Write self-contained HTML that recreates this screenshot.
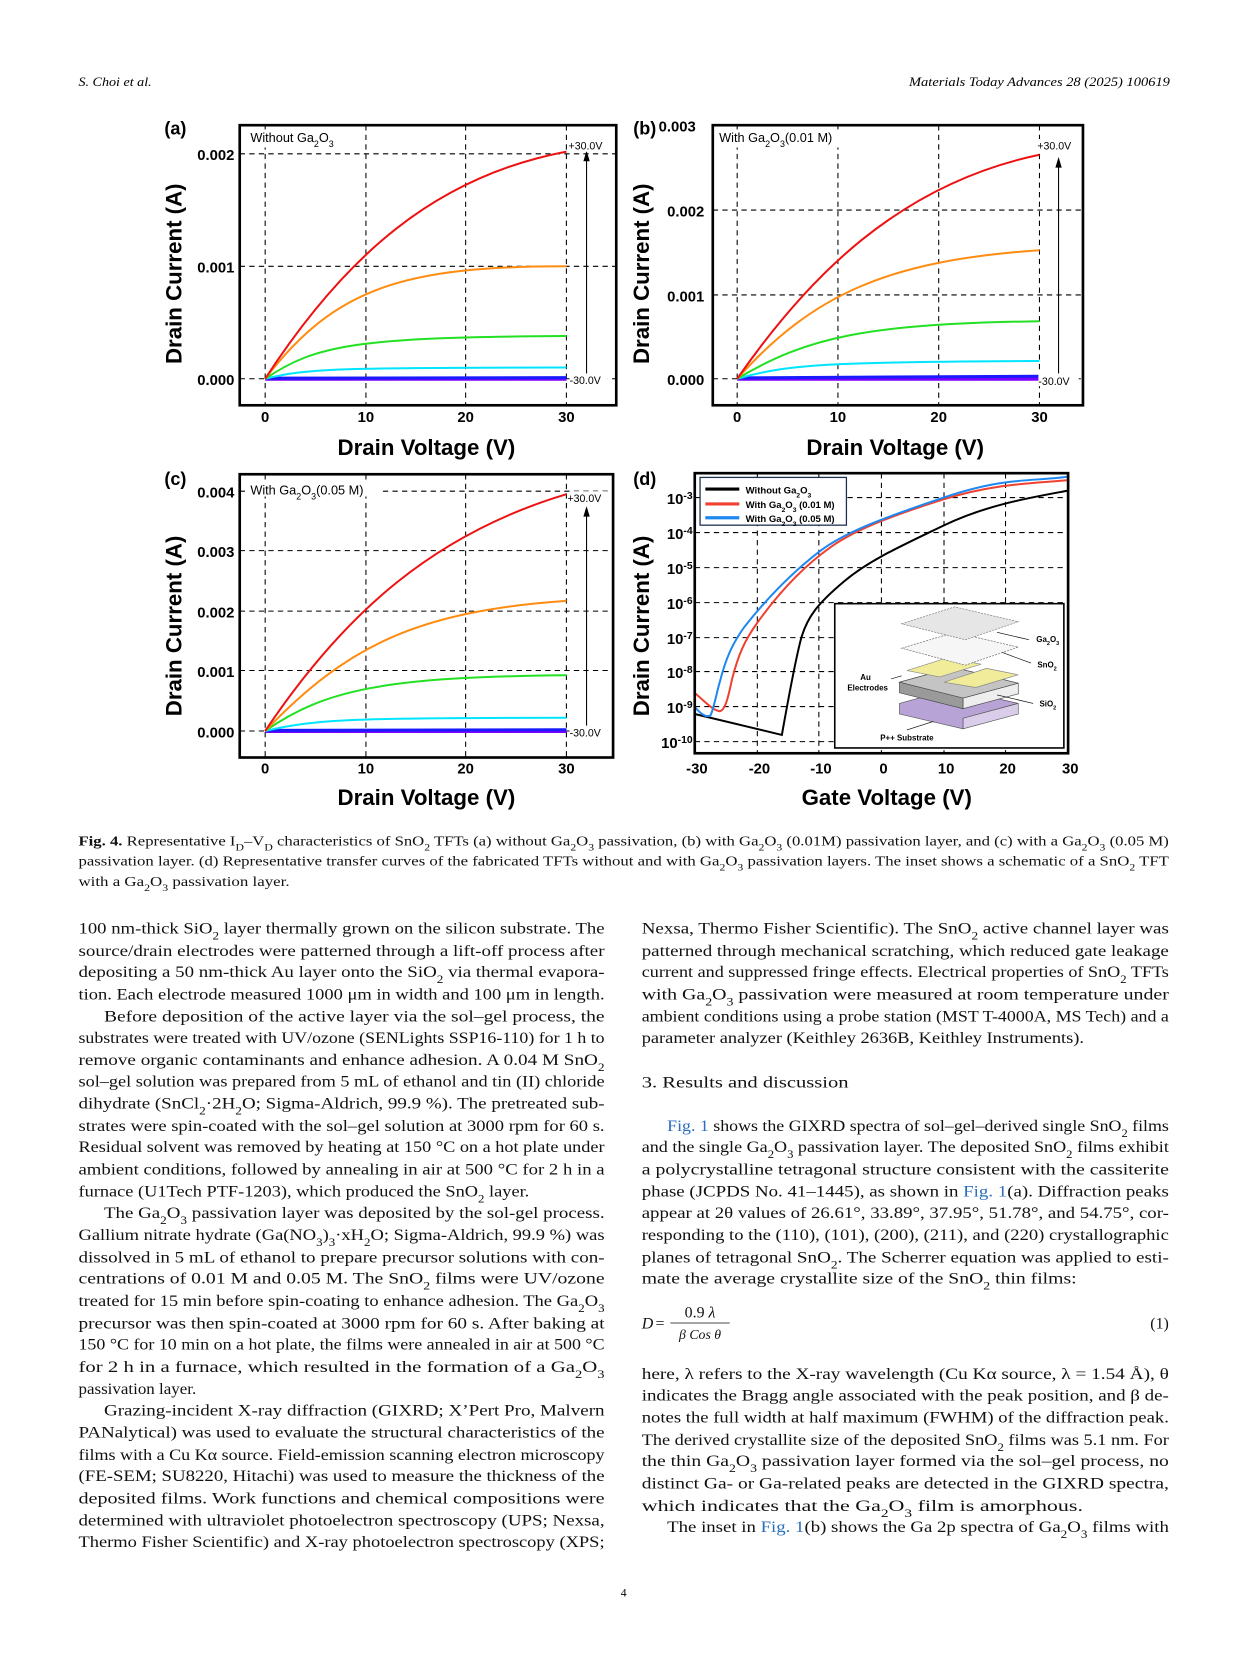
<!DOCTYPE html>
<html><head><meta charset="utf-8">
<style>
html,body{margin:0;padding:0;background:#fff;}
svg{display:block}
.ax{font-family:"Liberation Sans",sans-serif;font-weight:bold;}
.tl{font-family:"Liberation Sans",sans-serif;font-weight:bold;font-size:14px;}
.b{font-family:"Liberation Serif",serif;font-size:15px;fill:#111;}
.cap{font-family:"Liberation Serif",serif;font-size:12.8px;fill:#111;}
.s{font-size:70%;baseline-shift:sub;}
.sp{font-size:70%;baseline-shift:super;}
.lk{fill:#2a6ebb;}
.g{stroke:#000;stroke-width:1;stroke-dasharray:5,4;fill:none;}
.fr{fill:none;stroke:#000;stroke-width:2.5;}
.c{fill:none;vector-effect:non-scaling-stroke;stroke-width:2;}
</style></head><body>
<svg width="1241" height="1654" viewBox="0 0 1170 1559" preserveAspectRatio="none" xmlns="http://www.w3.org/2000/svg">
<rect width="1170" height="1559" fill="#fff"/>
<text x="74" y="81" font-family="Liberation Serif,serif" font-style="italic" font-size="11.5" textLength="69" lengthAdjust="spacingAndGlyphs">S. Choi et al.</text>
<text x="857" y="81" font-family="Liberation Serif,serif" font-style="italic" font-size="11.5" textLength="246" lengthAdjust="spacingAndGlyphs">Materials Today Advances 28 (2025) 100619</text>

<!-- Panel a -->
<g>
<text x="155" y="127" class="ax" font-size="17">(a)</text>
<line class="g" x1="250" y1="118" x2="250" y2="382"/><line class="g" x1="345" y1="118" x2="345" y2="382"/>
<line class="g" x1="439" y1="118" x2="439" y2="382"/><line class="g" x1="534" y1="118" x2="534" y2="382"/>
<line class="g" x1="226" y1="357" x2="581" y2="357"/><line class="g" x1="226" y1="251" x2="581" y2="251"/><line class="g" x1="226" y1="145" x2="581" y2="145"/>
<g transform="translate(250,357) scale(9.47,-106)">
<path class="c" stroke="#7a00ff" style="stroke-width:4" d="M0 0 L30 0"/>
<path class="c" stroke="#1a1aff" style="stroke-width:3" d="M0 0.005 L30 0.01"/>
<path class="c" stroke="#00e5ff" d="M0 0 C4 0.09 7 0.1 30 0.1"/>
<path class="c" stroke="#22e022" d="M0 0 C5 0.3 9 0.37 30 0.38"/>
<path class="c" stroke="#ff8c10" d="M0 0 C7 0.82 14 1 30 1.0"/>
<path class="c" stroke="#ee1111" d="M0 0 C8 1.1 17 1.8 30 2.02"/>
</g>
<rect class="fr" x="226" y="118" width="355" height="264"/>
<rect x="233" y="122" width="92" height="17" fill="#fff"/>
<text x="236" y="134" font-family="Liberation Sans,sans-serif" font-size="12">Without Ga<tspan class="s">2</tspan>O<tspan class="s">3</tspan></text>
<line x1="553" y1="357" x2="553" y2="150" stroke="#000"/><polygon points="553,142 550,152 556,152"/>
<rect x="537" y="131" width="36" height="12" fill="#fff"/><rect x="537" y="352" width="36" height="12" fill="#fff"/>
<text x="536" y="141" font-family="Liberation Sans,sans-serif" font-size="10">+30.0V</text>
<text x="537" y="362" font-family="Liberation Sans,sans-serif" font-size="10">-30.0V</text>
<text class="tl" x="221" y="151" text-anchor="end">0.002</text>
<text class="tl" x="221" y="257" text-anchor="end">0.001</text>
<text class="tl" x="221" y="363" text-anchor="end">0.000</text>
<text class="tl" x="250" y="398" text-anchor="middle">0</text><text class="tl" x="345" y="398" text-anchor="middle">10</text>
<text class="tl" x="439" y="398" text-anchor="middle">20</text><text class="tl" x="534" y="398" text-anchor="middle">30</text>
<text class="ax" font-size="21" transform="translate(171,258) rotate(-90)" text-anchor="middle">Drain Current (A)</text>
<text class="ax" font-size="21" x="402" y="429" text-anchor="middle">Drain Voltage (V)</text>
</g>

<!-- Panel b -->
<g>
<text x="597" y="127" class="ax" font-size="17">(b)</text>
<text class="tl" x="621" y="124">0.003</text>
<line class="g" x1="695" y1="118" x2="695" y2="382"/><line class="g" x1="790" y1="118" x2="790" y2="382"/>
<line class="g" x1="885" y1="118" x2="885" y2="382"/><line class="g" x1="980" y1="118" x2="980" y2="382"/>
<line class="g" x1="672" y1="357" x2="1021" y2="357"/><line class="g" x1="672" y1="278" x2="1021" y2="278"/><line class="g" x1="672" y1="198" x2="1021" y2="198"/>
<g transform="translate(695,357) scale(9.5,-79.67)">
<path class="c" stroke="#7a00ff" style="stroke-width:4" d="M0 0 L30 0"/>
<path class="c" stroke="#1a1aff" style="stroke-width:3" d="M0 0.01 L30 0.03"/>
<path class="c" stroke="#00e5ff" d="M0 0 C5 0.17 9 0.2 30 0.21"/>
<path class="c" stroke="#22e022" d="M0 0 C7 0.5 13 0.65 30 0.68"/>
<path class="c" stroke="#ff8c10" d="M0 0 C7.5 1.0 15 1.4 30 1.52"/>
<path class="c" stroke="#ee1111" d="M0 0 C7 1.2 16 2.3 30 2.65"/>
</g>
<rect class="fr" x="672" y="118" width="349" height="264"/>
<rect x="676" y="122" width="118" height="17" fill="#fff"/>
<text x="678" y="134" font-family="Liberation Sans,sans-serif" font-size="12">With Ga<tspan class="s">2</tspan>O<tspan class="s">3</tspan>(0.01 M)</text>
<line x1="998" y1="357" x2="998" y2="156" stroke="#000"/><polygon points="998,148 995,158 1001,158"/>
<rect x="979" y="131" width="38" height="12" fill="#fff"/><rect x="979" y="352" width="38" height="12" fill="#fff"/>
<text x="978" y="141" font-family="Liberation Sans,sans-serif" font-size="10">+30.0V</text>
<text x="979" y="363" font-family="Liberation Sans,sans-serif" font-size="10">-30.0V</text>
<text class="tl" x="664" y="204" text-anchor="end">0.002</text>
<text class="tl" x="664" y="284" text-anchor="end">0.001</text>
<text class="tl" x="664" y="363" text-anchor="end">0.000</text>
<text class="tl" x="695" y="398" text-anchor="middle">0</text><text class="tl" x="790" y="398" text-anchor="middle">10</text>
<text class="tl" x="885" y="398" text-anchor="middle">20</text><text class="tl" x="980" y="398" text-anchor="middle">30</text>
<text class="ax" font-size="21" transform="translate(612,258) rotate(-90)" text-anchor="middle">Drain Current (A)</text>
<text class="ax" font-size="21" x="844" y="429" text-anchor="middle">Drain Voltage (V)</text>
</g>

<!-- Panel c -->
<g>
<text x="155" y="457" class="ax" font-size="17">(c)</text>
<line class="g" x1="250" y1="447" x2="250" y2="714"/><line class="g" x1="345" y1="447" x2="345" y2="714"/>
<line class="g" x1="439" y1="447" x2="439" y2="714"/><line class="g" x1="534" y1="447" x2="534" y2="714"/>
<line class="g" x1="226" y1="689" x2="578" y2="689"/><line class="g" x1="226" y1="632" x2="578" y2="632"/><line class="g" x1="226" y1="576" x2="578" y2="576"/><line class="g" x1="226" y1="519" x2="578" y2="519"/><line class="g" x1="226" y1="463" x2="578" y2="463"/>
<g transform="translate(250,689) scale(9.47,-56.5)">
<path class="c" stroke="#7a00ff" style="stroke-width:4" d="M0 0 L30 0"/>
<path class="c" stroke="#1a1aff" style="stroke-width:3" d="M0 0.01 L30 0.02"/>
<path class="c" stroke="#00e5ff" d="M0 0 C5 0.2 9 0.22 30 0.22"/>
<path class="c" stroke="#22e022" d="M0 0 C6 0.7 12 0.9 30 0.93"/>
<path class="c" stroke="#ff8c10" d="M0 0 C8 1.4 15 2.0 30 2.17"/>
<path class="c" stroke="#ee1111" d="M0 0 C8 2.0 17 3.3 30 3.95"/>
</g>
<rect x="233" y="452" width="128" height="16" fill="#fff"/>
<rect class="fr" x="226" y="447" width="352" height="267"/>
<text x="236" y="466" font-family="Liberation Sans,sans-serif" font-size="12">With Ga<tspan class="s">2</tspan>O<tspan class="s">3</tspan>(0.05 M)</text>
<line x1="553" y1="689" x2="553" y2="485" stroke="#000"/><polygon points="553,477 550,487 556,487"/>
<rect x="537" y="463" width="36" height="12" fill="#fff"/><rect x="537" y="684" width="36" height="12" fill="#fff"/>
<text x="535" y="473" font-family="Liberation Sans,sans-serif" font-size="10">+30.0V</text>
<text x="537" y="694" font-family="Liberation Sans,sans-serif" font-size="10">-30.0V</text>
<text class="tl" x="221" y="469" text-anchor="end">0.004</text>
<text class="tl" x="221" y="525" text-anchor="end">0.003</text>
<text class="tl" x="221" y="582" text-anchor="end">0.002</text>
<text class="tl" x="221" y="638" text-anchor="end">0.001</text>
<text class="tl" x="221" y="695" text-anchor="end">0.000</text>
<text class="tl" x="250" y="729" text-anchor="middle">0</text><text class="tl" x="345" y="729" text-anchor="middle">10</text>
<text class="tl" x="439" y="729" text-anchor="middle">20</text><text class="tl" x="534" y="729" text-anchor="middle">30</text>
<text class="ax" font-size="21" transform="translate(171,590) rotate(-90)" text-anchor="middle">Drain Current (A)</text>
<text class="ax" font-size="21" x="402" y="759" text-anchor="middle">Drain Voltage (V)</text>
</g>

<!-- Panel d -->
<g>
<text x="597" y="457" class="ax" font-size="17">(d)</text>
<g class="g">
<line x1="714" y1="446" x2="714" y2="710"/><line x1="772" y1="446" x2="772" y2="710"/><line x1="831" y1="446" x2="831" y2="710"/><line x1="890" y1="446" x2="890" y2="710"/><line x1="948" y1="446" x2="948" y2="710"/>
<line x1="655" y1="469" x2="1007" y2="469"/><line x1="655" y1="502" x2="1007" y2="502"/><line x1="655" y1="535" x2="1007" y2="535"/><line x1="655" y1="568" x2="1007" y2="568"/><line x1="655" y1="601" x2="1007" y2="601"/><line x1="655" y1="633" x2="1007" y2="633"/><line x1="655" y1="666" x2="1007" y2="666"/><line x1="655" y1="699" x2="1007" y2="699"/>
</g>
<g transform="translate(831,469) scale(5.867,-32.9)">
<path class="c" stroke="#000" d="M-30,-6.2 L-16,-6.8 C-15,-5.8 -14,-4.8 -13,-4.1 S-10,-3.0 -6,-2.4 S3,-1.4 10,-0.8 S24,0 30,0.2"/>
<path class="c" stroke="#f04030" d="M-30,-5.6 C-28,-5.9 -27,-6.1 -26,-6.12 C-25,-6.1 -24.5,-5.6 -24,-5.2 C-23,-4.5 -22,-4.1 -20,-3.6 C-16,-2.6 -12,-1.9 -8,-1.4 S2,-0.5 10,-0.05 S24,0.4 30,0.5"/>
<path class="c" stroke="#1e88f0" d="M-30,-6.0 C-29,-6.2 -28.3,-6.3 -27.5,-6.25 C-27,-6.1 -26.5,-5.6 -26,-5.3 C-25,-4.6 -24,-4.2 -22,-3.7 C-18,-2.8 -14,-2.1 -10,-1.55 S0,-0.6 10,0.0 S24,0.45 30,0.6"/>
</g>
<rect x="787" y="569" width="216" height="136" fill="#fff" stroke="#000" stroke-width="1.5"/>
<polygon points="848,663 899,649 960,663 908,677 908,687 848,673" fill="#b8a3d6" stroke="#555" stroke-width="0.6"/>
<polygon points="908,677 960,663 960,673 908,687" fill="#d9cde9" stroke="#555" stroke-width="0.6"/>
<polygon points="848,643 899,629 960,644 908,658 908,668 848,653" fill="#9a9a9a" stroke="#444" stroke-width="0.6"/>
<polygon points="908,658 960,644 960,654 908,668" fill="#eee" stroke="#444" stroke-width="0.6"/>
<polygon points="848,643 899,629 960,644 908,658" fill="#c4c4c4" stroke="#444" stroke-width="0.6"/>
<polygon points="855,632 893,620 925,626 886,638" fill="#f0ec9a" stroke="#888" stroke-width="0.6"/>
<polygon points="890,643 930,630 960,636 920,648" fill="#f0ec9a" stroke="#888" stroke-width="0.6"/>
<polygon points="850,611 900,596 960,610 910,627" fill="#f6f6f6" stroke="#666" stroke-width="0.6" stroke-dasharray="2,1"/>
<polygon points="850,588 900,572 960,586 910,603" fill="#e6e6e6" stroke="#777" stroke-width="0.6" stroke-dasharray="2,1"/>
<g stroke="#000" stroke-width="0.6"><line x1="940" y1="596" x2="970" y2="603"/><line x1="945" y1="615" x2="972" y2="625"/><line x1="940" y1="655" x2="974" y2="663"/><line x1="850" y1="637" x2="840" y2="640"/><line x1="880" y1="680" x2="855" y2="688"/></g>
<g font-family="Liberation Sans,sans-serif" font-weight="bold" font-size="7.5">
<text x="977" y="605">Ga<tspan class="s">2</tspan>O<tspan class="s">3</tspan></text>
<text x="978" y="629">SnO<tspan class="s">2</tspan></text>
<text x="980" y="666">SiO<tspan class="s">2</tspan></text>
<text x="816" y="641" text-anchor="middle">Au</text>
<text x="818" y="651" text-anchor="middle">Electrodes</text>
<text x="855" y="698" text-anchor="middle">P++ Substrate</text>
</g>
<rect x="660" y="450" width="138" height="45" fill="#fff" stroke="#1f2f4f" stroke-width="1.2"/>
<line x1="665" y1="461" x2="697" y2="461" stroke="#000" stroke-width="3"/>
<line x1="665" y1="475" x2="697" y2="475" stroke="#f04030" stroke-width="3"/>
<line x1="665" y1="488" x2="697" y2="488" stroke="#1e88f0" stroke-width="3"/>
<g font-family="Liberation Sans,sans-serif" font-weight="bold" font-size="9">
<text x="703" y="465">Without Ga<tspan class="s">2</tspan>O<tspan class="s">3</tspan></text>
<text x="703" y="479">With Ga<tspan class="s">2</tspan>O<tspan class="s">3</tspan> (0.01 M)</text>
<text x="703" y="492">With Ga<tspan class="s">2</tspan>O<tspan class="s">3</tspan> (0.05 M)</text>
</g>
<rect class="fr" x="655" y="446" width="352" height="264"/>
<g class="tl" text-anchor="end">
<text x="653" y="475">10<tspan class="sp">-3</tspan></text>
<text x="653" y="508">10<tspan class="sp">-4</tspan></text>
<text x="653" y="541">10<tspan class="sp">-5</tspan></text>
<text x="653" y="574">10<tspan class="sp">-6</tspan></text>
<text x="653" y="607">10<tspan class="sp">-7</tspan></text>
<text x="653" y="639">10<tspan class="sp">-8</tspan></text>
<text x="653" y="672">10<tspan class="sp">-9</tspan></text>
<text x="653" y="705">10<tspan class="sp">-10</tspan></text>
</g>
<g class="tl" text-anchor="middle">
<text x="657" y="729">-30</text><text x="716" y="729">-20</text><text x="774" y="729">-10</text><text x="833" y="729">0</text><text x="892" y="729">10</text><text x="950" y="729">20</text><text x="1009" y="729">30</text>
</g>
<text class="ax" font-size="21" transform="translate(612,590) rotate(-90)" text-anchor="middle">Drain Current (A)</text>
<text class="ax" font-size="21" x="836" y="759" text-anchor="middle">Gate Voltage (V)</text>
</g>

<!-- caption -->
<g class="cap">
<text x="74" y="797" textLength="1028" lengthAdjust="spacingAndGlyphs"><tspan font-weight="bold">Fig. 4.</tspan> Representative I<tspan class="s">D</tspan>–V<tspan class="s">D</tspan> characteristics of SnO<tspan class="s">2</tspan> TFTs (a) without Ga<tspan class="s">2</tspan>O<tspan class="s">3</tspan> passivation, (b) with Ga<tspan class="s">2</tspan>O<tspan class="s">3</tspan> (0.01M) passivation layer, and (c) with a Ga<tspan class="s">2</tspan>O<tspan class="s">3</tspan> (0.05 M)</text>
<text x="74" y="816" textLength="1028" lengthAdjust="spacingAndGlyphs">passivation layer. (d) Representative transfer curves of the fabricated TFTs without and with Ga<tspan class="s">2</tspan>O<tspan class="s">3</tspan> passivation layers. The inset shows a schematic of a SnO<tspan class="s">2</tspan> TFT</text>
<text x="74" y="835" textLength="199" lengthAdjust="spacingAndGlyphs">with a Ga<tspan class="s">2</tspan>O<tspan class="s">3</tspan> passivation layer.</text>
</g>

<!-- left column -->
<g class="b">
<text x="74" y="880" textLength="496" lengthAdjust="spacingAndGlyphs">100 nm-thick SiO<tspan class="s">2</tspan> layer thermally grown on the silicon substrate. The</text>
<text x="74" y="901" textLength="496" lengthAdjust="spacingAndGlyphs">source/drain electrodes were patterned through a lift-off process after</text>
<text x="74" y="921" textLength="496" lengthAdjust="spacingAndGlyphs">depositing a 50 nm-thick Au layer onto the SiO<tspan class="s">2</tspan> via thermal evapora-</text>
<text x="74" y="942" textLength="496" lengthAdjust="spacingAndGlyphs">tion. Each electrode measured 1000 μm in width and 100 μm in length.</text>
<text x="98" y="963" textLength="472" lengthAdjust="spacingAndGlyphs">Before deposition of the active layer via the sol–gel process, the</text>
<text x="74" y="983" textLength="496" lengthAdjust="spacingAndGlyphs">substrates were treated with UV/ozone (SENLights SSP16-110) for 1 h to</text>
<text x="74" y="1004" textLength="496" lengthAdjust="spacingAndGlyphs">remove organic contaminants and enhance adhesion. A 0.04 M SnO<tspan class="s">2</tspan></text>
<text x="74" y="1024" textLength="496" lengthAdjust="spacingAndGlyphs">sol–gel solution was prepared from 5 mL of ethanol and tin (II) chloride</text>
<text x="74" y="1045" textLength="496" lengthAdjust="spacingAndGlyphs">dihydrate (SnCl<tspan class="s">2</tspan>·2H<tspan class="s">2</tspan>O; Sigma-Aldrich, 99.9 %). The pretreated sub-</text>
<text x="74" y="1066" textLength="496" lengthAdjust="spacingAndGlyphs">strates were spin-coated with the sol–gel solution at 3000 rpm for 60 s.</text>
<text x="74" y="1086" textLength="496" lengthAdjust="spacingAndGlyphs">Residual solvent was removed by heating at 150 °C on a hot plate under</text>
<text x="74" y="1107" textLength="496" lengthAdjust="spacingAndGlyphs">ambient conditions, followed by annealing in air at 500 °C for 2 h in a</text>
<text x="74" y="1128" textLength="425" lengthAdjust="spacingAndGlyphs">furnace (U1Tech PTF-1203), which produced the SnO<tspan class="s">2</tspan> layer.</text>
<text x="98" y="1148" textLength="472" lengthAdjust="spacingAndGlyphs">The Ga<tspan class="s">2</tspan>O<tspan class="s">3</tspan> passivation layer was deposited by the sol-gel process.</text>
<text x="74" y="1169" textLength="496" lengthAdjust="spacingAndGlyphs">Gallium nitrate hydrate (Ga(NO<tspan class="s">3</tspan>)<tspan class="s">3</tspan>·xH<tspan class="s">2</tspan>O; Sigma-Aldrich, 99.9 %) was</text>
<text x="74" y="1190" textLength="496" lengthAdjust="spacingAndGlyphs">dissolved in 5 mL of ethanol to prepare precursor solutions with con-</text>
<text x="74" y="1210" textLength="496" lengthAdjust="spacingAndGlyphs">centrations of 0.01 M and 0.05 M. The SnO<tspan class="s">2</tspan> films were UV/ozone</text>
<text x="74" y="1231" textLength="496" lengthAdjust="spacingAndGlyphs">treated for 15 min before spin-coating to enhance adhesion. The Ga<tspan class="s">2</tspan>O<tspan class="s">3</tspan></text>
<text x="74" y="1252" textLength="496" lengthAdjust="spacingAndGlyphs">precursor was then spin-coated at 3000 rpm for 60 s. After baking at</text>
<text x="74" y="1272" textLength="496" lengthAdjust="spacingAndGlyphs">150 °C for 10 min on a hot plate, the films were annealed in air at 500 °C</text>
<text x="74" y="1293" textLength="496" lengthAdjust="spacingAndGlyphs">for 2 h in a furnace, which resulted in the formation of a Ga<tspan class="s">2</tspan>O<tspan class="s">3</tspan></text>
<text x="74" y="1314" textLength="111" lengthAdjust="spacingAndGlyphs">passivation layer.</text>
<text x="98" y="1334" textLength="472" lengthAdjust="spacingAndGlyphs">Grazing-incident X-ray diffraction (GIXRD; X’Pert Pro, Malvern</text>
<text x="74" y="1355" textLength="496" lengthAdjust="spacingAndGlyphs">PANalytical) was used to evaluate the structural characteristics of the</text>
<text x="74" y="1376" textLength="496" lengthAdjust="spacingAndGlyphs">films with a Cu Kα source. Field-emission scanning electron microscopy</text>
<text x="74" y="1396" textLength="496" lengthAdjust="spacingAndGlyphs">(FE-SEM; SU8220, Hitachi) was used to measure the thickness of the</text>
<text x="74" y="1417" textLength="496" lengthAdjust="spacingAndGlyphs">deposited films. Work functions and chemical compositions were</text>
<text x="74" y="1438" textLength="496" lengthAdjust="spacingAndGlyphs">determined with ultraviolet photoelectron spectroscopy (UPS; Nexsa,</text>
<text x="74" y="1458" textLength="496" lengthAdjust="spacingAndGlyphs">Thermo Fisher Scientific) and X-ray photoelectron spectroscopy (XPS;</text>
</g>

<!-- right column -->
<g class="b">
<text x="605" y="880" textLength="497" lengthAdjust="spacingAndGlyphs">Nexsa, Thermo Fisher Scientific). The SnO<tspan class="s">2</tspan> active channel layer was</text>
<text x="605" y="901" textLength="497" lengthAdjust="spacingAndGlyphs">patterned through mechanical scratching, which reduced gate leakage</text>
<text x="605" y="921" textLength="497" lengthAdjust="spacingAndGlyphs">current and suppressed fringe effects. Electrical properties of SnO<tspan class="s">2</tspan> TFTs</text>
<text x="605" y="942" textLength="497" lengthAdjust="spacingAndGlyphs">with Ga<tspan class="s">2</tspan>O<tspan class="s">3</tspan> passivation were measured at room temperature under</text>
<text x="605" y="963" textLength="497" lengthAdjust="spacingAndGlyphs">ambient conditions using a probe station (MST T-4000A, MS Tech) and a</text>
<text x="605" y="983" textLength="417" lengthAdjust="spacingAndGlyphs">parameter analyzer (Keithley 2636B, Keithley Instruments).</text>
<text x="605" y="1025" textLength="195" lengthAdjust="spacingAndGlyphs">3.  Results and discussion</text>
<text x="629" y="1066" textLength="473" lengthAdjust="spacingAndGlyphs"><tspan class="lk">Fig. 1</tspan> shows the GIXRD spectra of sol–gel–derived single SnO<tspan class="s">2</tspan> films</text>
<text x="605" y="1086" textLength="497" lengthAdjust="spacingAndGlyphs">and the single Ga<tspan class="s">2</tspan>O<tspan class="s">3</tspan> passivation layer. The deposited SnO<tspan class="s">2</tspan> films exhibit</text>
<text x="605" y="1107" textLength="497" lengthAdjust="spacingAndGlyphs">a polycrystalline tetragonal structure consistent with the cassiterite</text>
<text x="605" y="1128" textLength="497" lengthAdjust="spacingAndGlyphs">phase (JCPDS No. 41–1445), as shown in <tspan class="lk">Fig. 1</tspan>(a). Diffraction peaks</text>
<text x="605" y="1148" textLength="497" lengthAdjust="spacingAndGlyphs">appear at 2θ values of 26.61°, 33.89°, 37.95°, 51.78°, and 54.75°, cor-</text>
<text x="605" y="1169" textLength="497" lengthAdjust="spacingAndGlyphs">responding to the (110), (101), (200), (211), and (220) crystallographic</text>
<text x="605" y="1190" textLength="497" lengthAdjust="spacingAndGlyphs">planes of tetragonal SnO<tspan class="s">2</tspan>. The Scherrer equation was applied to esti-</text>
<text x="605" y="1210" textLength="410" lengthAdjust="spacingAndGlyphs">mate the average crystallite size of the SnO<tspan class="s">2</tspan> thin films:</text>
<text x="605" y="1252" font-style="italic">D</text><text x="618" y="1252">=</text>
<text x="660" y="1242" text-anchor="middle">0.9 <tspan font-style="italic">λ</tspan></text>
<line x1="632" y1="1247" x2="688" y2="1247" stroke="#111" stroke-width="0.8"/>
<text x="660" y="1262" text-anchor="middle" font-style="italic" font-size="13">β Cos θ</text>
<text x="1102" y="1252" text-anchor="end">(1)</text>
<text x="605" y="1300" textLength="497" lengthAdjust="spacingAndGlyphs">here, λ refers to the X-ray wavelength (Cu Kα source, λ = 1.54 Å), θ</text>
<text x="605" y="1320" textLength="497" lengthAdjust="spacingAndGlyphs">indicates the Bragg angle associated with the peak position, and β de-</text>
<text x="605" y="1341" textLength="497" lengthAdjust="spacingAndGlyphs">notes the full width at half maximum (FWHM) of the diffraction peak.</text>
<text x="605" y="1362" textLength="497" lengthAdjust="spacingAndGlyphs">The derived crystallite size of the deposited SnO<tspan class="s">2</tspan> films was 5.1 nm. For</text>
<text x="605" y="1382" textLength="497" lengthAdjust="spacingAndGlyphs">the thin Ga<tspan class="s">2</tspan>O<tspan class="s">3</tspan> passivation layer formed via the sol–gel process, no</text>
<text x="605" y="1403" textLength="497" lengthAdjust="spacingAndGlyphs">distinct Ga- or Ga-related peaks are detected in the GIXRD spectra,</text>
<text x="605" y="1424" textLength="416" lengthAdjust="spacingAndGlyphs">which indicates that the Ga<tspan class="s">2</tspan>O<tspan class="s">3</tspan> film is amorphous.</text>
<text x="629" y="1444" textLength="473" lengthAdjust="spacingAndGlyphs">The inset in <tspan class="lk">Fig. 1</tspan>(b) shows the Ga 2p spectra of Ga<tspan class="s">2</tspan>O<tspan class="s">3</tspan> films with</text>
</g>
<text x="588" y="1505" text-anchor="middle" font-family="Liberation Serif,serif" font-size="11">4</text>
</svg>
</body></html>
